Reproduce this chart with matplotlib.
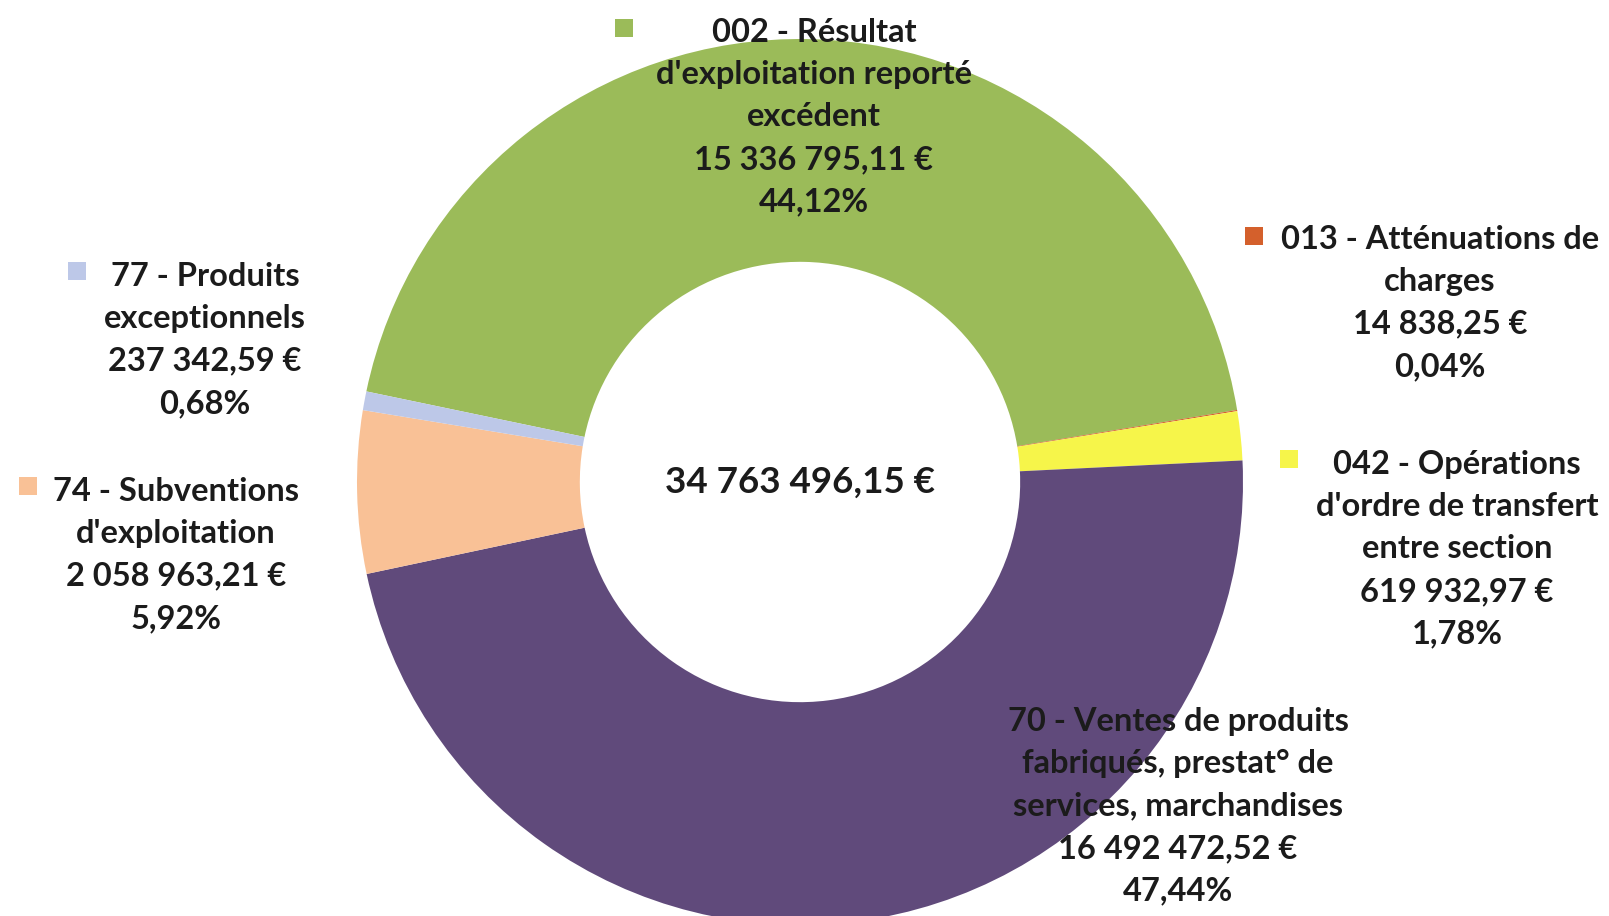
import matplotlib.pyplot as plt

# data
categories = ["002 - Résultat\nd'exploitation reporté\nexcédent",
              "013 - Atténuations de\ncharges",
              "042 - Opérations\nd'ordre de transfert\nentre section",
              "70 - Ventes de produits\nfabriqués, prestat° de\nservices, marchandises",
              "74 - Subventions\nd'exploitation",
              "77 - Produits\nexceptionnels"]
values = [15336795.11, 14838.25, 619932.97, 16492472.52, 2058963.21, 237342.59]
total = 34763496.15
colors = ["#9bbb59", "#d4602c", "#f6f54a", "#604a7b", "#f9c196", "#bdc8e8"]

# label centres (pixels from top-left) and legend-square positions
label_pos = [(814, 117), (1440, 303), (1457, 549), (1178, 806), (176, 555), (205, 340)]
marker_pos = [(624, 28), (1254, 236), (1289, 459), None, (28, 486), (77, 271)]

W, H = 1609, 916


def fmt(v):
    s = "{:,.2f}".format(v)
    return s.replace(",", " ").replace(".", ",") + " €"


fig = plt.figure(figsize=(W / 100, H / 100), dpi=100)
ax = fig.add_axes([0, 0, 1, 1])

cx, cy, r = 800, H - 482, 443
ax.pie(values, colors=colors, startangle=168.2, counterclock=False,
       center=(cx, cy), radius=r, frame=True,
       wedgeprops=dict(width=r * 0.503, linewidth=0))
ax.set_xlim(0, W)
ax.set_ylim(0, H)
ax.set_aspect("equal")
ax.axis("off")

font = ["Lato", "DejaVu Sans"]
for i in range(len(categories)):
    pct = "{:.2f}%".format(values[i] / total * 100).replace(".", ",")
    txt = categories[i] + "\n" + fmt(values[i]) + "\n" + pct
    x, y = label_pos[i]
    ax.text(x, H - y, txt, ha="center", va="center", fontsize=23.5,
            fontweight="bold", family=font, color="#1b1b1b",
            linespacing=1.56, multialignment="center")
    if marker_pos[i] is not None:
        mx, my = marker_pos[i]
        ax.add_patch(plt.Rectangle((mx - 9, H - my - 9), 18, 18,
                                   color=colors[i], lw=0))

ax.text(cx, cy, fmt(total), ha="center", va="center", fontsize=26.5,
        fontweight="bold", family=font, color="#1b1b1b")

fig.savefig("out.png", dpi=100)
